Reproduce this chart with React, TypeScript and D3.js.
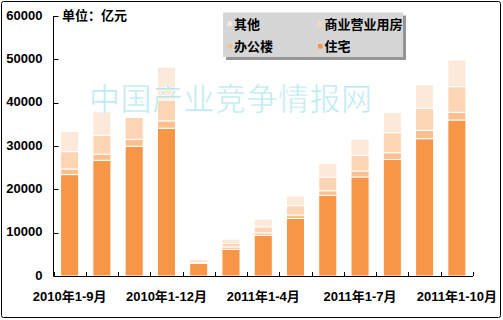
import React from "react";
import * as d3 from "d3";

const categories = [
  "2010年1-9月", "2010年1-10月", "2010年1-11月", "2010年1-12月",
  "2011年1-2月", "2011年1-3月", "2011年1-4月", "2011年1-5月",
  "2011年1-6月", "2011年1-7月", "2011年1-8月", "2011年1-9月", "2011年1-10月",
];
const labelIndices = [0, 3, 6, 9, 12];
const zhuzhai = [23400, 26700, 29950, 34100, 2930, 6150, 9400, 13270, 18620, 22850, 26900, 31690, 36000];
const bangong = [1300, 1400, 1600, 1700, 250, 550, 550, 800, 1060, 1380, 1550, 1940, 1780];
const shangye = [4000, 4400, 5050, 4800, 550, 800, 1400, 2150, 3090, 3600, 4630, 5080, 5910];
const qita = [4700, 5400, 0, 7600, 350, 1000, 1800, 2240, 3230, 3780, 4610, 5380, 6160];
const yTicks = [0, 10000, 20000, 30000, 40000, 50000, 60000];
const seriesNames = ["住宅", "办公楼", "商业营业用房", "其他"];
const seriesColors = ["#F79646", "#FAC090", "#FCD5B5", "#FDE9D9"];
const unitLabel = "单位：亿元";
const watermark = "中国产业竞争情报网";

const W = 503, H = 320;
const left = 53.5, right = 473, top = 16, bottom = 276;

export default function App() {
  const x = d3.scaleBand<string>().domain(categories).range([left, right]).paddingInner(0.44).paddingOuter(0.22);
  const y = d3.scaleLinear().domain([0, 60000]).range([bottom, top]);
  const rows = categories.map((c, i) => ({ cat: c, s0: zhuzhai[i], s1: bangong[i], s2: shangye[i], s3: qita[i] }));
  const stack = d3.stack<any>().keys(["s0", "s1", "s2", "s3"])(rows);
  const step = x.step();
  const bw = x.bandwidth();
  const boundaries = d3.range(categories.length + 1).map((k) => left + k * step);
  const cjk = "'Noto Sans CJK SC', sans-serif";
  const num = "'Liberation Sans', 'Noto Sans CJK SC', sans-serif";

  const legendItems = [
    { name: seriesNames[3], color: seriesColors[3], lx: 227.5, ly: 24 },
    { name: seriesNames[2], color: seriesColors[2], lx: 318, ly: 24 },
    { name: seriesNames[1], color: seriesColors[1], lx: 227.5, ly: 46.5 },
    { name: seriesNames[0], color: seriesColors[0], lx: 318, ly: 46.5 },
  ];

  return (
    <div style={{ position: "fixed", left: 0, top: 0, width: W, height: H, background: "#fff" }}>
      <svg width={W} height={H} style={{ display: "block" }}>
        <rect x={0} y={0} width={W} height={H} fill="#fff" />
        <rect x={1.5} y={1.5} width={499} height={316} rx={2} fill="#fff" stroke="#000" strokeWidth={1} />
        {stack.map((layer, li) => (
          <g key={li} fill={seriesColors[li]}>
            {layer.map((d, i) =>
              d[1] - d[0] > 0 ? (
                <rect key={i} x={x(categories[i])!} y={y(d[1])} width={bw} height={y(d[0]) - y(d[1])}
                  stroke="#fff" strokeWidth={1} />
              ) : null
            )}
          </g>
        ))}
        <text x={89} y={110} fontFamily={cjk} fontSize={31} letterSpacing={0.5} fill="#A6E3EA" fillOpacity={0.75}
          stroke="#ffffff" strokeWidth={0.6}>{watermark}</text>
        {/* axes */}
        <line x1={left} x2={left} y1={top} y2={bottom} stroke="#000" />
        <line x1={left} x2={right} y1={bottom + 0.5} y2={bottom + 0.5} stroke="#000" />
        {yTicks.map((t) => (
          <g key={t}>
            <line x1={left} x2={left + 5} y1={Math.round(y(t)) + 0.5} y2={Math.round(y(t)) + 0.5} stroke="#000" />
            <text x={42.5} y={y(t) - 1} dy="0.36em" textAnchor="end" fontFamily={num} fontWeight="bold" fontSize={13} fill="#000">{t}</text>
          </g>
        ))}
        {boundaries.map((b, k) => (
          <line key={k} x1={Math.round(b) + 0.5} x2={Math.round(b) + 0.5} y1={bottom - 4} y2={bottom} stroke="#000" />
        ))}
        {labelIndices.map((i) => (
          <text key={i} x={x(categories[i])! + bw / 2} y={301} textAnchor="middle" fontFamily={num} fontWeight="bold" fontSize={13} fill="#000">{categories[i]}</text>
        ))}
        <text x={62} y={20} fontFamily={cjk} fontWeight="bold" fontSize={13} fill="#000">{unitLabel}</text>
        {/* legend */}
        <rect x={226} y={15.5} width={180} height={44.5} fill="#7a7a7a" opacity={0.8} />
        <rect x={223} y={12.5} width={180} height={44.5} fill="#D6D6D6" />
        {legendItems.map((it) => (
          <g key={it.name}>
            <rect x={it.lx} y={it.ly - 2.5} width={4.5} height={4.5} fill={it.color} />
            <text x={it.lx + 6.5} y={it.ly} dy="0.36em" fontFamily={cjk} fontWeight="bold" fontSize={13} fill="#000">{it.name}</text>
          </g>
        ))}
      </svg>
    </div>
  );
}
